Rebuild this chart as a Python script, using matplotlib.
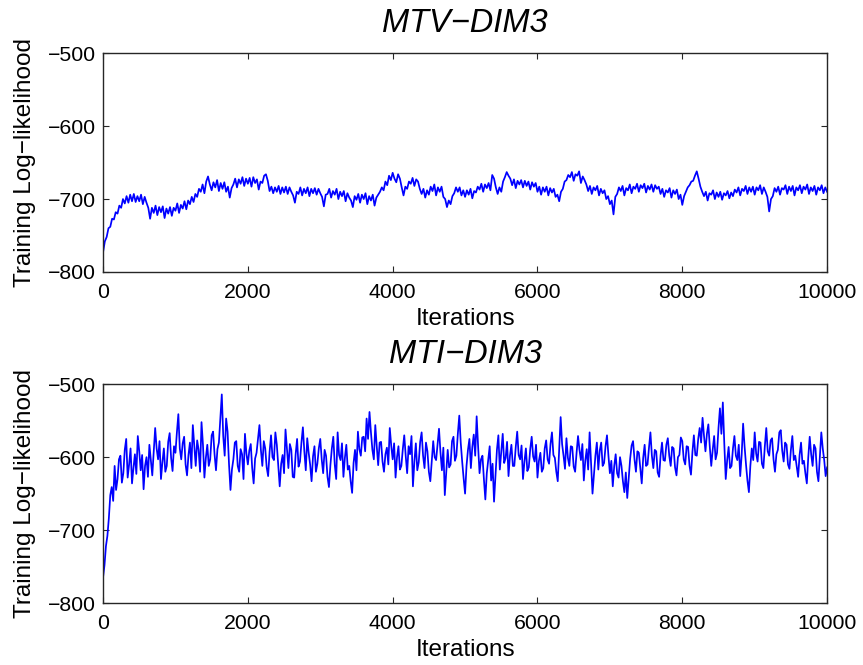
import matplotlib
matplotlib.use("Agg")
import matplotlib.pyplot as plt
import numpy as np

plt.rcParams["font.family"] = ["Liberation Sans", "DejaVu Sans"]

# MTV-DIM3: log-likelihood, one value every 25 iterations (0..10000)
mtv_ll = [
    -773, -758, -752, -740, -738, -727, -728, -718, -720, -709, -712, -700, -706, -696, -705, -694, -703, -693, -704, -696,
    -703, -694, -707, -697, -705, -712, -727, -712, -719, -709, -722, -711, -718, -710, -726, -713, -720, -711, -723, -712,
    -716, -706, -719, -708, -713, -703, -714, -702, -707, -697, -704, -693, -697, -686, -690, -680, -692, -676, -669, -680,
    -688, -677, -684, -674, -689, -678, -686, -677, -690, -683, -698, -685, -680, -672, -684, -673, -679, -670, -682, -672,
    -679, -671, -683, -670, -678, -673, -687, -676, -678, -668, -666, -675, -689, -683, -692, -684, -690, -682, -693, -684,
    -691, -683, -693, -684, -690, -695, -705, -690, -693, -684, -695, -686, -692, -684, -696, -686, -692, -685, -694, -686,
    -692, -697, -710, -694, -693, -686, -698, -689, -694, -686, -700, -690, -696, -689, -703, -692, -698, -702, -711, -696,
    -701, -693, -705, -694, -700, -692, -707, -696, -702, -694, -709, -698, -694, -690, -684, -688, -676, -681, -668, -674,
    -664, -672, -677, -666, -672, -684, -695, -683, -686, -676, -679, -671, -682, -673, -676, -686, -693, -686, -698, -688,
    -694, -683, -689, -680, -695, -684, -690, -683, -697, -700, -711, -702, -707, -696, -692, -684, -690, -684, -695, -688,
    -697, -688, -694, -686, -699, -689, -691, -683, -687, -679, -690, -680, -685, -678, -688, -667, -672, -684, -693, -684,
    -690, -676, -670, -663, -668, -672, -681, -673, -685, -675, -680, -674, -684, -675, -682, -676, -687, -677, -683, -678,
    -690, -683, -694, -684, -690, -683, -695, -685, -691, -686, -697, -694, -703, -690, -686, -676, -674, -667, -670, -663,
    -675, -666, -668, -662, -678, -669, -674, -680, -689, -682, -693, -684, -688, -682, -695, -686, -692, -688, -700, -696,
    -707, -702, -721, -697, -693, -684, -689, -682, -695, -685, -688, -680, -692, -683, -686, -679, -690, -681, -685, -679,
    -691, -682, -687, -680, -690, -681, -686, -683, -693, -686, -697, -688, -691, -685, -698, -688, -693, -687, -700, -694,
    -708, -696, -690, -684, -681, -676, -675, -668, -662, -672, -683, -690, -696, -690, -702, -692, -694, -688, -700, -691,
    -697, -690, -701, -692, -695, -689, -699, -691, -696, -687, -691, -684, -695, -686, -689, -682, -693, -684, -690, -683,
    -694, -684, -688, -681, -693, -684, -690, -697, -717, -700, -696, -685, -690, -683, -694, -685, -687, -681, -693, -683,
    -689, -682, -695, -684, -688, -681, -692, -683, -687, -680, -693, -684, -689, -682, -694, -684, -688, -681, -692, -684,
    -690,
]

# MTI-DIM3: log-likelihood, one value every 20 iterations (0..10000)
mti_ll = [
    -765, -748, -722, -708, -684, -652, -641, -660, -612, -645, -630, -603, -598, -635, -622, -590, -575, -628, -610, -588,
    -636, -615, -596, -623, -571, -592, -618, -597, -644, -612, -600, -627, -583, -604, -625, -592, -560, -588, -603, -578,
    -630, -607, -588, -620, -612, -579, -567, -601, -619, -585,
    -594, -566, -541, -588, -603, -581, -572, -610, -625, -597, -580, -615, -556, -584, -612, -577, -590, -620, -552, -583,
    -628, -601, -583, -612, -603, -570, -565, -596, -618, -589, -580, -548, -514, -571, -598, -547, -565, -610, -645, -617,
    -603, -580, -578, -612, -620, -589, -596, -630, -568, -595,
    -610, -591, -582, -615, -636, -602, -594, -575, -556, -590, -612, -578, -588, -614, -626, -593, -570, -600, -604, -566,
    -583, -612, -640, -609, -597, -622, -562, -589, -615, -582, -590, -627, -628, -596, -575, -613, -606, -580, -559, -592,
    -618, -574, -594, -610, -633, -599, -585, -620, -609, -588,
    -575, -603, -622, -590, -598, -627, -641, -611, -588, -572, -610, -630, -566, -597, -604, -581, -627, -601, -583, -617,
    -612, -633, -649, -608, -590, -618, -565, -589, -598, -573, -572, -592, -547, -575, -538, -566, -590, -603, -556, -585,
    -611, -580, -579, -606, -620, -596, -587, -610, -560, -584,
    -603, -581, -628, -600, -585, -617, -612, -589, -570, -598, -622, -585, -596, -571, -640, -606, -581, -618, -607, -579,
    -566, -598, -615, -580, -592, -620, -633, -605, -578, -600, -604, -582, -561, -593, -618, -587, -652, -621, -590, -614,
    -610, -578, -572, -605, -598, -568, -543, -580, -606, -629,
    -650, -612, -590, -575, -615, -586, -569, -598, -544, -585, -622, -603, -598, -630, -658, -622, -604, -585, -632, -609,
    -661, -626, -590, -570, -617, -592, -568, -608, -601, -579, -626, -598, -583, -612, -612, -586, -565, -597, -603, -584,
    -630, -606, -588, -619, -614, -589, -572, -599, -606, -583,
    -628, -605, -594, -620, -615, -588, -577, -603, -609, -582, -566, -597, -601, -620, -633, -590, -545, -582, -598, -616,
    -574, -601, -612, -585, -586, -613, -620, -594, -571, -590, -604, -582, -632, -605, -589, -617, -566, -608, -650, -624,
    -598, -580, -617, -591, -580, -612, -608, -585, -570, -598,
    -622, -605, -640, -612, -596, -622, -628, -600, -612, -633, -648, -621, -656, -630, -602, -584, -578, -603, -620, -592,
    -594, -615, -636, -601, -583, -612, -610, -587, -566, -598, -615, -590, -592, -621, -627, -598, -580, -604, -605, -583,
    -574, -598, -612, -586, -588, -614, -625, -600, -597, -573,
    -578, -603, -610, -585, -586, -612, -624, -593, -570, -597, -598, -575, -560, -580, -546, -571, -592, -568, -555, -586,
    -612, -590, -571, -603, -594, -560, -533, -568, -525, -581, -630, -604, -586, -615, -612, -588, -571, -598, -604, -583,
    -626, -597, -554, -585, -610, -632, -648, -612, -588, -604,
    -566, -595, -606, -579, -580, -609, -615, -585, -560, -592, -598, -577, -574, -603, -620, -596, -590, -566, -563, -591,
    -606, -580, -583, -610, -616, -590, -571, -604, -598, -612, -627, -597, -580, -609, -605, -622, -636, -600, -572, -596,
    -612, -583, -588, -620, -633, -600, -566, -588, -604, -626,
    -614,
]

titles = ["MTV\u2212DIM3", "MTI\u2212DIM3"]
xticks = [0, 2000, 4000, 6000, 8000, 10000]
yticks = [-800, -700, -600, -500]
n_iter = 10000

series = [mtv_ll, mti_ll]

fig = plt.figure(figsize=(8.63, 6.65), dpi=100)
# axes boxes placed to match the reference pixel layout
boxes = [[0.1194, 0.591, 0.839, 0.329], [0.1194, 0.0932, 0.839, 0.329]]

for box, title, y in zip(boxes, titles, series):
    ax = fig.add_axes(box)
    x = np.linspace(0, n_iter, len(y))
    ax.plot(x, y, color="#0000ff", linewidth=1.25)
    ax.set_xlim(0, n_iter)
    ax.set_ylim(-800, -500)
    ax.set_xticks(xticks)
    ax.set_yticks(yticks)
    ax.tick_params(direction="in", length=4.3, width=0.8, top=True, right=True,
                   labelsize=15.3, colors="#262626", labelcolor="black")
    ax.tick_params(axis="x", pad=8)
    ax.tick_params(axis="y", pad=5)
    for sp in ax.spines.values():
        sp.set_linewidth(1.0)
        sp.set_color("#262626")
    ax.set_xlabel("Iterations", fontsize=17.5, labelpad=4)
    ax.set_ylabel("Training Log\u2212likelihood", fontsize=17.5, labelpad=9)
    ax.set_title(title, fontsize=23.5, style="italic", pad=15)

fig.savefig("out.png", dpi=100)
